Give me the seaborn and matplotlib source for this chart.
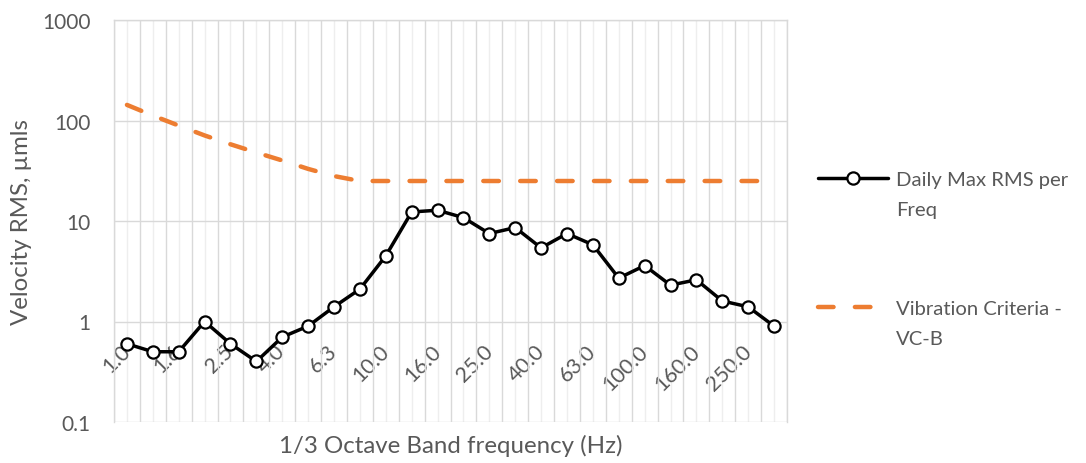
import numpy as np
import pandas as pd
import matplotlib
matplotlib.use("Agg")
import matplotlib.pyplot as plt
import seaborn as sns

# 1/3 octave band centre frequencies (Hz)
bands = [1.0, 1.25, 1.6, 2.0, 2.5, 3.15, 4.0, 5.0, 6.3, 8.0, 10.0, 12.5, 16.0,
         20.0, 25.0, 31.5, 40.0, 50.0, 63.0, 80.0, 100.0, 125.0, 160.0, 200.0,
         250.0, 315.0]

# Daily maximum RMS velocity per band (um/s)
daily_max_rms = [0.6, 0.5, 0.5, 1.0, 0.6, 0.4, 0.7, 0.9, 1.4, 2.1, 4.5, 12.3,
                 12.8, 10.8, 7.5, 8.6, 5.4, 7.5, 5.8, 2.7, 3.6, 2.3, 2.6, 1.6,
                 1.4, 0.9]

# VC-B vibration criterion curve (um/s)
vc_b = [143, 112, 89, 71, 58, 48, 40, 33, 28, 25, 25, 25, 25, 25, 25, 25, 25,
        25, 25, 25, 25, 25, 25, 25, 25, 25]

y_ticks = [0.1, 1, 10, 100, 1000]
y_tick_labels = ["0.1", "1", "10", "100", "1000"]

series_labels = [("Daily Max RMS per", "Freq"),
                 ("Vibration Criteria -", "VC-B")]

TEXT = "#595959"
GRID = "#d9d9d9"
GRID_LIGHT = "#eeeeee"
ORANGE = "#ED7D31"
FS = 15
FS_X = 15.5
FS_TITLE = 17.3
FS_LEG = 14.6

sns.set_style("white")
plt.rcParams["font.family"] = ["Lato", "DejaVu Sans"]

df = pd.DataFrame({"pos": np.arange(len(bands)),
                   "rms": daily_max_rms,
                   "vc": vc_b})

fig = plt.figure(figsize=(10.86, 4.64), dpi=100)
W, H = 1086, 464
ax = fig.add_axes([114 / W, 1 - 423 / H, (787 - 114) / W, (423 - 21) / H])

sns.lineplot(data=df, x="pos", y="vc", ax=ax, color=ORANGE, lw=3.2,
             linestyle=(0, (3.5, 4.8)), dash_capstyle="round",
             label=series_labels[1][0], zorder=3)
sns.lineplot(data=df, x="pos", y="rms", ax=ax, color="black", lw=2.5,
             marker="o", markersize=8.8, markerfacecolor="white",
             markeredgecolor="black", markeredgewidth=1.6,
             label=series_labels[0][0], zorder=4)

ax.set_yscale("log")
ax.set_ylim(0.1, 1000)
ax.set_yticks(y_ticks)
ax.set_yticklabels(y_tick_labels)
ax.yaxis.set_minor_locator(matplotlib.ticker.NullLocator())

n = len(bands)
ax.set_xlim(-0.5, n - 0.5)
ax.set_xticks(np.arange(n))
ax.set_xticks(np.arange(n + 1) - 0.5, minor=True)
xlabels = [f"{b:.1f}" if i % 2 == 0 else "" for i, b in enumerate(bands)]
ax.set_xticklabels(xlabels)

# category axis crosses the value axis at 1
ax.spines["bottom"].set_position(("data", 1))
ax.spines["bottom"].set_visible(False)
for side in ("left", "right", "top"):
    ax.spines[side].set_color(GRID)
    ax.spines[side].set_linewidth(1.0)

ax.grid(True, which="major", axis="y", color=GRID, lw=1.0)
ax.grid(True, which="minor", axis="x", color=GRID, lw=1.0)
ax.grid(True, which="major", axis="x", color=GRID_LIGHT, lw=1.0)
ax.set_axisbelow(True)

ax.tick_params(axis="x", which="both", length=0, pad=19, labelsize=FS_X,
               labelcolor=TEXT, labelrotation=45)
ax.tick_params(axis="y", which="both", length=0, pad=17, labelsize=FS,
               labelcolor=TEXT)

ax.set_xlabel("1/3 Octave Band frequency (Hz)", fontsize=FS_TITLE, color=TEXT)
ax.xaxis.set_label_coords(0.5, -0.057)
ax.xaxis.label.set_va("center")
ax.set_ylabel("Velocity RMS, µmls", fontsize=FS_TITLE, color=TEXT)
ax.yaxis.set_label_coords(-0.137, 0.5)
ax.yaxis.label.set_va("center")

handles, labels = ax.get_legend_handles_labels()
order = [labels.index(series_labels[0][0]), labels.index(series_labels[1][0])]
leg = ax.legend([handles[i] for i in order], [labels[i] for i in order],
                loc="upper left", bbox_to_anchor=(818 / W, 1 - 172 / H),
                bbox_transform=fig.transFigure, frameon=False, borderpad=0,
                borderaxespad=0, handlelength=3.45, handletextpad=0.4,
                labelspacing=5.5, fontsize=FS_LEG, labelcolor=TEXT)

fig.canvas.draw()
for lbl in ax.get_xticklabels():
    lbl.set_ha("right")
    lbl.set_va("center")
    lbl.set_rotation_mode("anchor")
for txt, (_, second) in zip(leg.get_texts(), series_labels):
    ax.annotate(second, xy=(0, 1), xycoords=txt, xytext=(0, -30),
                textcoords="offset pixels", va="top", ha="left",
                fontsize=FS_LEG, color=TEXT)

fig.savefig("out.png", dpi=100)
